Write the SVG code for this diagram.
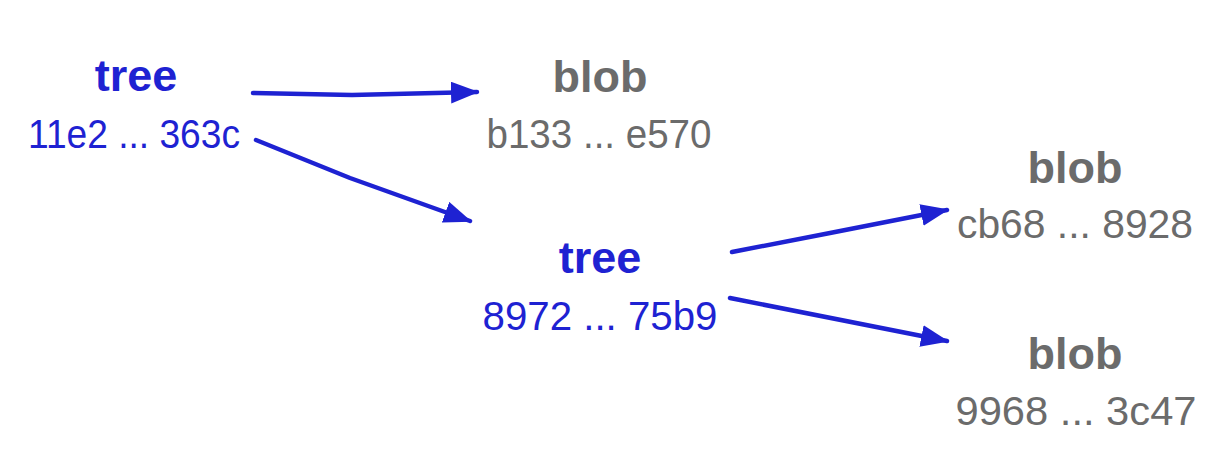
<svg xmlns="http://www.w3.org/2000/svg" width="1230" height="466" viewBox="0 0 1230 466">
<style>
.t{font-family:"Liberation Sans",Arial,sans-serif;text-anchor:middle}
.h{font-size:45px;font-weight:bold}
.x{font-size:40px}
.b{fill:#1e22d2}
.g{fill:#6b6b6b}
.c{fill:none;stroke:#1e22d2;stroke-width:4.5;stroke-linecap:round;stroke-linejoin:round}
</style>
<defs>
<marker id="ah" viewBox="0 0 28 22" refX="26" refY="11" markerWidth="28" markerHeight="22" markerUnits="userSpaceOnUse" orient="auto">
<path d="M0,0 L28,11 L0,22 Z" fill="#1e22d2"/>
</marker>
</defs>
<rect width="1230" height="466" fill="#fff"/>
<g id="connectors">
<path class="c" d="M253,93 L352,95 L477,92" marker-end="url(#ah)"/>
<path class="c" d="M256,140 L350,178 L470,221" marker-end="url(#ah)"/>
<path class="c" d="M732,252 L830,233 L947,210" marker-end="url(#ah)"/>
<path class="c" d="M730,298 L947,341" marker-end="url(#ah)"/>
</g>
<g id="tree1">
<text class="t h b" x="136" y="91">tree</text>
<text class="t x b" x="134" y="148" textLength="212" lengthAdjust="spacingAndGlyphs">11e2 ... 363c</text>
</g>
<g id="blob1">
<text class="t h g" x="600" y="92">blob</text>
<text class="t x g" x="599" y="148" textLength="225" lengthAdjust="spacingAndGlyphs">b133 ... e570</text>
</g>
<g id="tree2">
<text class="t h b" x="600" y="273">tree</text>
<text class="t x b" x="600" y="330" textLength="235" lengthAdjust="spacingAndGlyphs">8972 ... 75b9</text>
</g>
<g id="blob2">
<text class="t h g" x="1075" y="183">blob</text>
<text class="t x g" x="1075" y="238" textLength="236" lengthAdjust="spacingAndGlyphs">cb68 ... 8928</text>
</g>
<g id="blob3">
<text class="t h g" x="1075" y="369">blob</text>
<text class="t x g" x="1076" y="425" textLength="241" lengthAdjust="spacingAndGlyphs">9968 ... 3c47</text>
</g>
</svg>
